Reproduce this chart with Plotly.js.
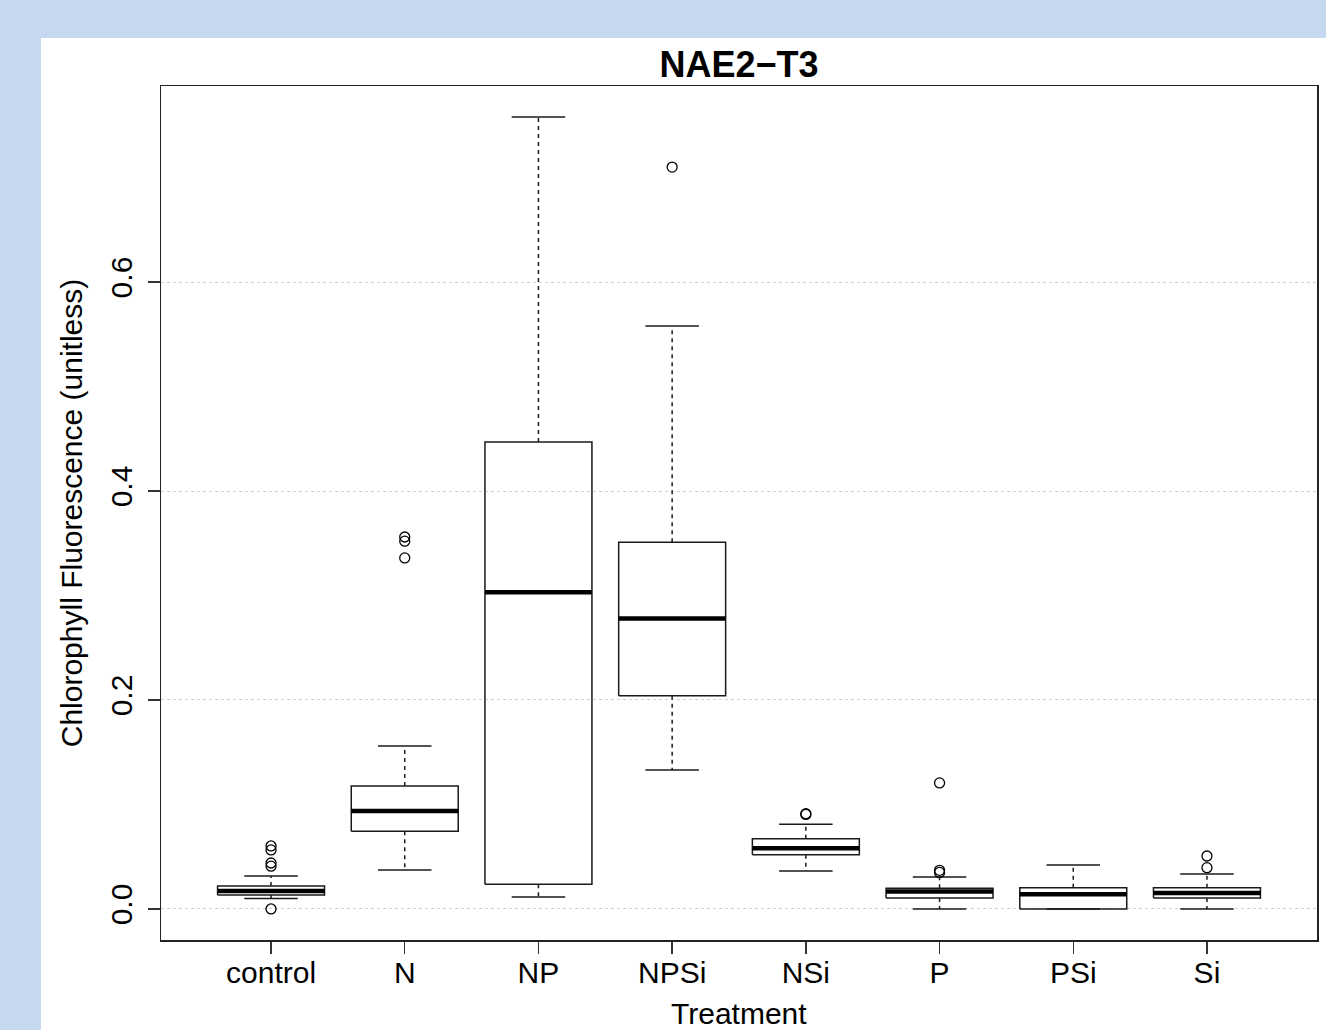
<!DOCTYPE html>
<html>
<head>
<meta charset="utf-8">
<script src="https://cdn.plot.ly/plotly-3.0.1.min.js"></script>
<style>html,body{margin:0;padding:0;background:#c6d9f0;}#chart{width:1326px;height:1030px;}</style>
</head>
<body>
<div id="chart"></div>
<script>
// Data
const categories = ['control', 'N', 'NP', 'NPSi', 'NSi', 'P', 'PSi', 'Si'];
const q1 = [0.0134, 0.0743, 0.0236, 0.204, 0.052, 0.0105, 0.0, 0.0105];
const medians = [0.0172, 0.0938, 0.303, 0.278, 0.058, 0.0166, 0.0141, 0.0153];
const q3 = [0.022, 0.1177, 0.447, 0.351, 0.0673, 0.0198, 0.0204, 0.0204];
const lowerWhisker = [0.0099, 0.0373, 0.0115, 0.133, 0.0364, 0.0, 0.0, 0.0];
const upperWhisker = [0.0316, 0.156, 0.758, 0.558, 0.081, 0.0306, 0.0421, 0.0335];
const outliers = [
  [0.0603, 0.0565, 0.044, 0.041, 0.0],
  [0.356, 0.352, 0.336],
  [],
  [0.710],
  [0.0912, 0.0905],
  [0.1206, 0.037, 0.035],
  [],
  [0.0507, 0.0395]
];
const yTicks = [0, 0.2, 0.4, 0.6];
const yTickText = ['0.0', '0.2', '0.4', '0.6'];
const xTitle = 'Treatment';
const yTitle = 'Chlorophyll Fluorescence (unitless)';
const chartTitle = 'NAE2−T3';

const boxHalf = 0.4, stapleHalf = 0.2;
const idx = categories.map((c, i) => i);

const boxX = [], boxY = [], medX = [], medY = [], whX = [], whY = [], stX = [], stY = [], outX = [], outY = [];
idx.forEach(i => {
  boxX.push(i - boxHalf, i + boxHalf, i + boxHalf, i - boxHalf, i - boxHalf, null);
  boxY.push(q1[i], q1[i], q3[i], q3[i], q1[i], null);
  medX.push(i - boxHalf, i + boxHalf, null);
  medY.push(medians[i], medians[i], null);
  whX.push(i, i, null, i, i, null);
  whY.push(q3[i], upperWhisker[i], null, q1[i], lowerWhisker[i], null);
  stX.push(i - stapleHalf, i + stapleHalf, null, i - stapleHalf, i + stapleHalf, null);
  stY.push(upperWhisker[i], upperWhisker[i], null, lowerWhisker[i], lowerWhisker[i], null);
  outliers[i].forEach(v => { outX.push(i); outY.push(v); });
});

const ink = '#1a1a1a';
const traces = [
  {x: whX, y: whY, type: 'scatter', mode: 'lines', line: {color: ink, width: 1.5, dash: '4px,4px'}, hoverinfo: 'skip'},
  {x: stX, y: stY, type: 'scatter', mode: 'lines', line: {color: ink, width: 1.5}, hoverinfo: 'skip'},
  {x: boxX, y: boxY, type: 'scatter', mode: 'lines', line: {color: ink, width: 1.5}, hoverinfo: 'skip'},
  {x: medX, y: medY, type: 'scatter', mode: 'lines', line: {color: '#000', width: 4.5}, hoverinfo: 'skip'},
  {x: outX, y: outY, type: 'scatter', mode: 'markers', marker: {symbol: 'circle-open', size: 10, color: '#000', line: {width: 1.3, color: '#000'}}}
];

const L = 161, R = 1317, T = 86, B = 940, W = 1326, H = 1030;
const pw = R - L, ph = B - T;

const layout = {
  width: W, height: H,
  paper_bgcolor: '#c6d9f0',
  plot_bgcolor: '#ffffff',
  showlegend: false,
  margin: {l: L, r: W - R, t: T, b: H - B, pad: 0},
  font: {family: 'Liberation Sans, Arial, Helvetica, sans-serif', size: 30, color: '#000'},
  title: {
    text: '<b>' + chartTitle + '</b>',
    font: {size: 36, color: '#000'},
    x: 0.5, xref: 'paper', xanchor: 'center',
    y: 1 - 64 / H, yref: 'container', yanchor: 'middle'
  },
  xaxis: {
    range: [-0.823, 7.823],
    tickmode: 'array', tickvals: idx, ticktext: categories,
    ticks: 'outside', ticklen: 12, tickwidth: 1.5, tickcolor: '#333',
    ticklabelstandoff: -7,
    showgrid: false, zeroline: false,
    showline: true, linecolor: '#222', linewidth: 1.5, mirror: true,
    tickfont: {size: 30},
    automargin: false
  },
  yaxis: {
    range: [-0.0297, 0.7876],
    tickmode: 'array', tickvals: yTicks, ticktext: yTickText,
    tickangle: -90,
    ticks: 'outside', ticklen: 12, tickwidth: 1.5, tickcolor: '#333',
    ticklabelstandoff: 4,
    showgrid: true, gridcolor: '#d0d0d0', gridwidth: 1, griddash: 'dot',
    zeroline: false,
    showline: true, linecolor: '#222', linewidth: 1.5, mirror: true,
    tickfont: {size: 30},
    title: {text: yTitle, font: {size: 30}, standoff: 13},
    automargin: false
  },
  annotations: [{
    text: xTitle, xref: 'paper', yref: 'paper',
    x: 0.5, y: (B - 1013) / ph, xanchor: 'center', yanchor: 'middle',
    showarrow: false, font: {size: 30, color: '#000'}
  }],
  shapes: [{
    type: 'rect', xref: 'paper', yref: 'paper', layer: 'below',
    x0: (41 - L) / pw, x1: (W + 5 - L) / pw,
    y0: (B - (H + 5)) / ph, y1: (B - 38) / ph,
    fillcolor: '#ffffff', line: {width: 0}
  }]
};

Plotly.newPlot('chart', traces, layout, {displayModeBar: false, staticPlot: true});
</script>
</body>
</html>
